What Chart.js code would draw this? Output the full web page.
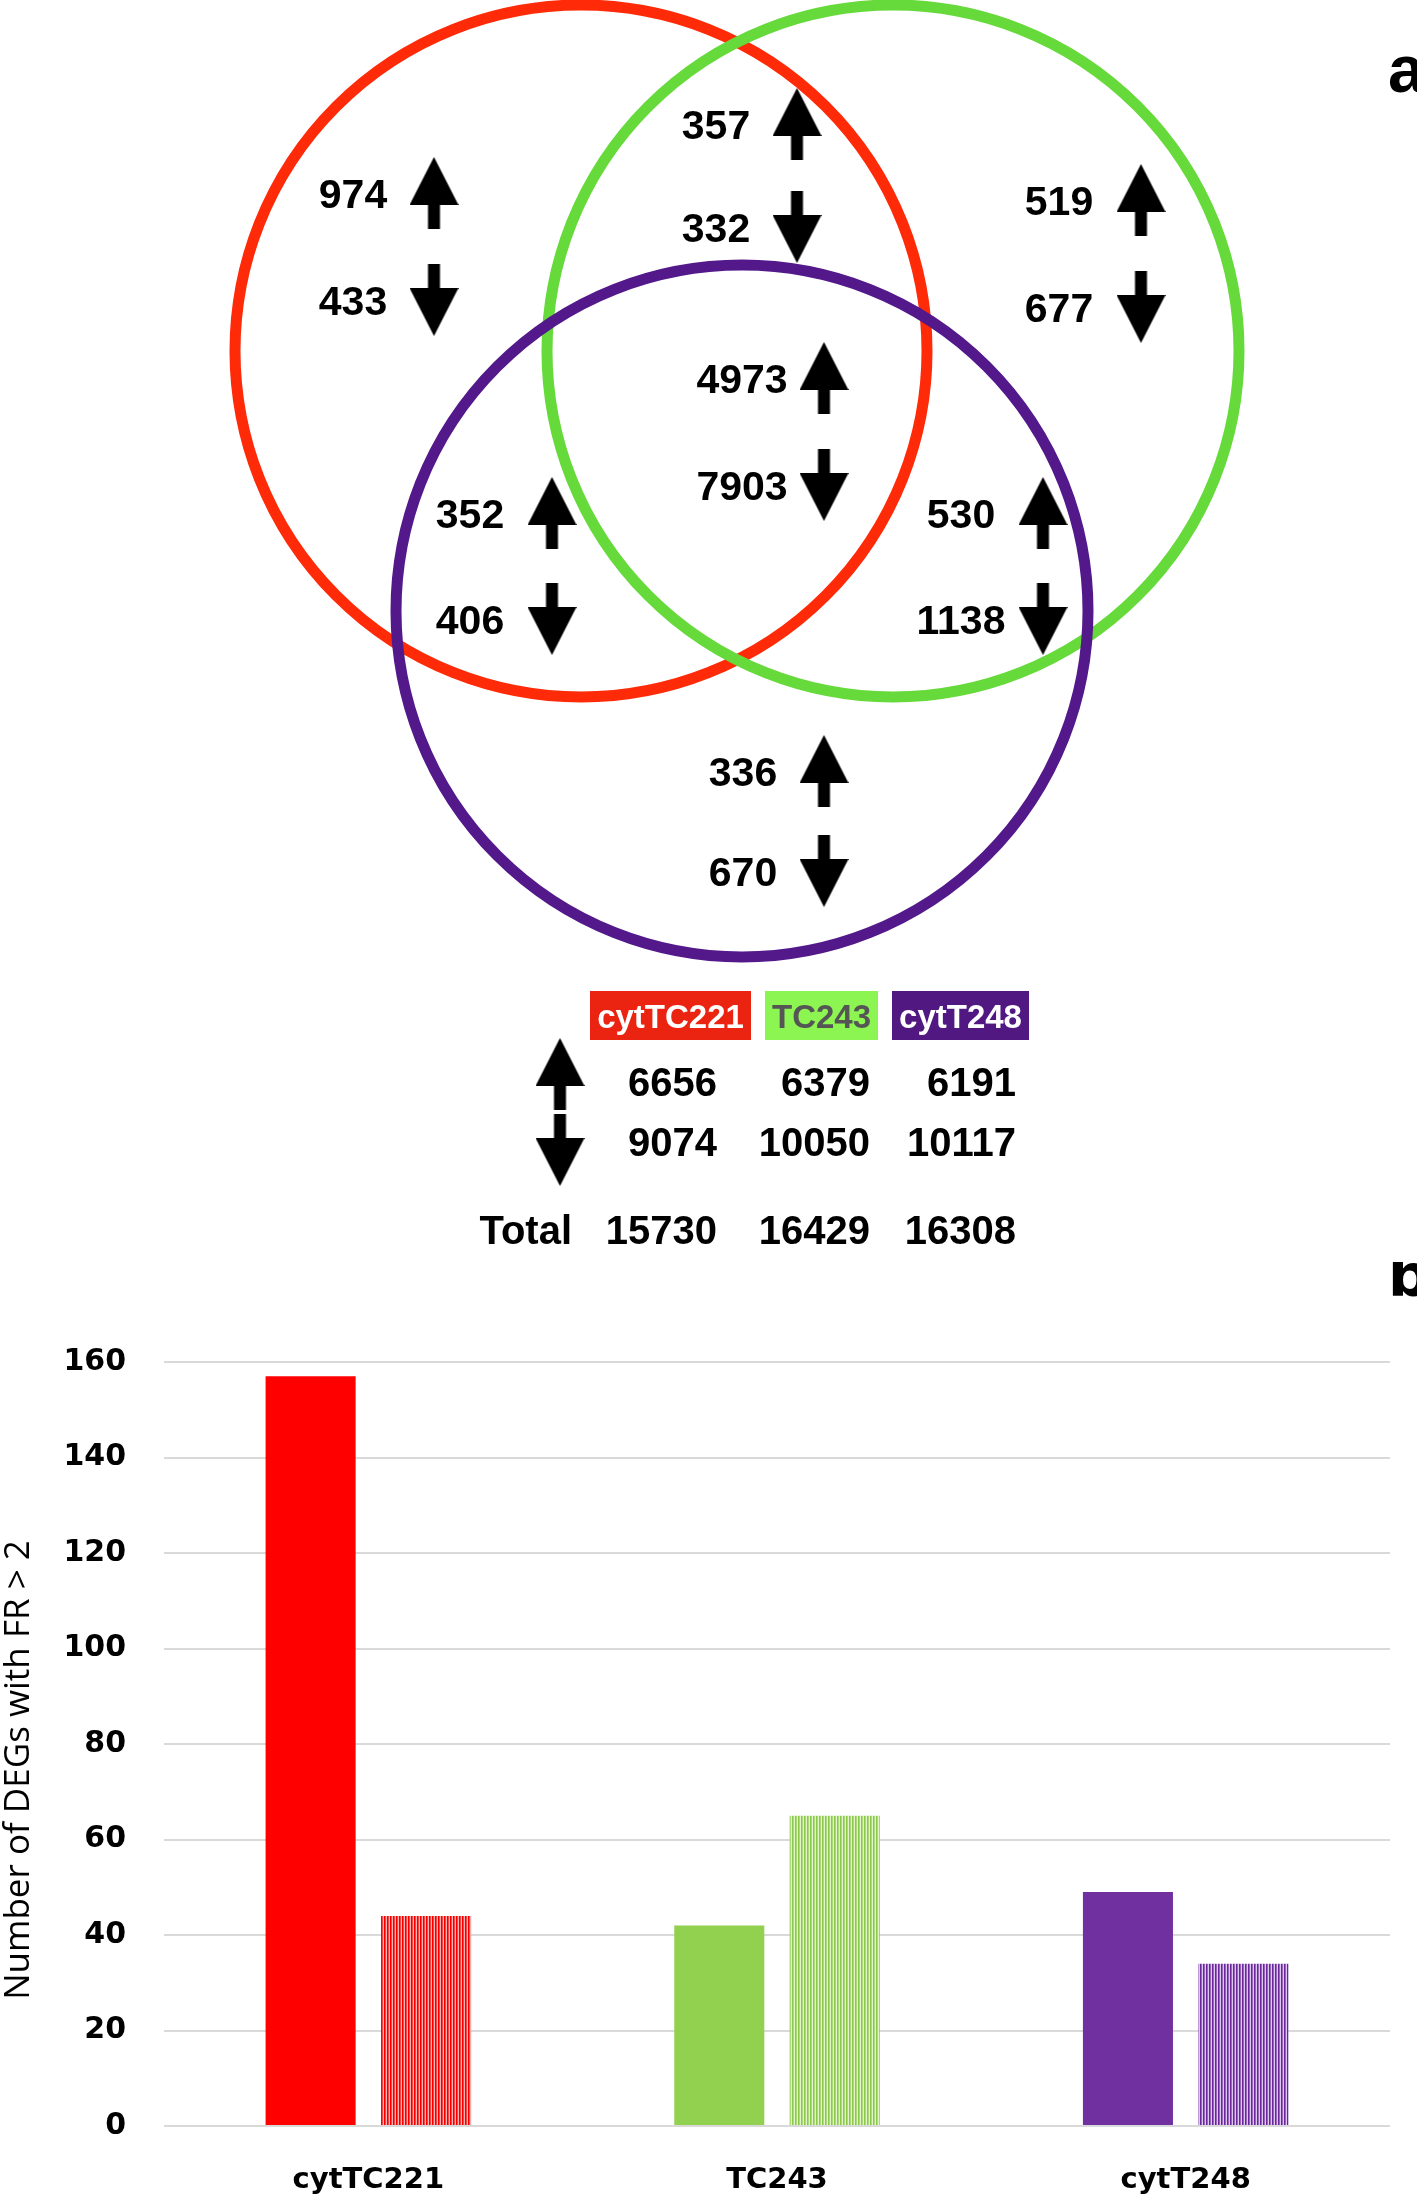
<!DOCTYPE html>
<html>
<head>
<meta charset="utf-8">
<script src="https://cdn.jsdelivr.net/npm/chart.js@4.4.1/dist/chart.umd.min.js"></script>
<style>
  html, body { margin: 0; padding: 0; background: #fff; }
  #page { position: relative; width: 1417px; height: 2197px; overflow: hidden; background: #fff; }
  #venn { position: absolute; left: 0; top: 0; }
  #bars { position: absolute; left: 0; top: 1262px; }
</style>
</head>
<body>
<div id="page">
  <canvas id="venn" width="1417" height="1262"></canvas>
  <canvas id="bars" width="1417" height="935"></canvas>
</div>
<script>
// ---- panel a: venn counts ----
const sets = ['cytTC221', 'TC243', 'cytT248'];
// regions: c221 only, c221+T243, T243 only, all three, c221+T248, T243+T248, T248 only
const regionUp = [974, 357, 519, 4973, 352, 530, 336];
const regionDown = [433, 332, 677, 7903, 406, 1138, 670];
const totalUp = [6656, 6379, 6191];
const totalDown = [9074, 10050, 10117];
const totalAll = [15730, 16429, 16308];

// ---- panel b: DEGs with FR > 2 ----
const categories = ['cytTC221', 'TC243', 'cytT248'];
const upFR2 = [157, 42, 49];
const downFR2 = [44, 65, 34];
const yMax = 160;
const yStep = 20;
const yTitle = 'Number of DEGs with FR > 2';

// layout of the venn (pixel space of the top canvas)
const circlePos = [{ x: 581, y: 351 }, { x: 893, y: 351 }, { x: 742, y: 611 }];
const circleR = 346;
const circleColors = ['#ff2a08', '#66d93b', '#53198b'];
const regionPos = [
  { tx: 353, ax: 434, uy: 193, dy: 300 },
  { tx: 716, ax: 797, uy: 124, dy: 227 },
  { tx: 1059, ax: 1141, uy: 200, dy: 307 },
  { tx: 742, ax: 824, uy: 378, dy: 485 },
  { tx: 470, ax: 552, uy: 513, dy: 619 },
  { tx: 961, ax: 1043, uy: 513, dy: 619 },
  { tx: 743, ax: 824, uy: 771, dy: 871 }
];
const boxes = [
  { x0: 590, x1: 751, fill: '#ea2410', text: '#ffffff' },
  { x0: 765, x1: 878, fill: '#8cf552', text: '#555555' },
  { x0: 892, x1: 1029, fill: '#511882', text: '#ffffff' }
];
const colRight = [717, 870, 1016];

function makeArrow(up) {
  const c = document.createElement('canvas');
  c.width = 49; c.height = 72;
  const g = c.getContext('2d');
  g.fillStyle = '#000';
  g.beginPath();
  if (up) {
    g.moveTo(24.5, 0); g.lineTo(49, 48); g.lineTo(30.5, 48); g.lineTo(30.5, 72);
    g.lineTo(18.5, 72); g.lineTo(18.5, 48); g.lineTo(0, 48);
  } else {
    g.moveTo(24.5, 72); g.lineTo(49, 24); g.lineTo(30.5, 24); g.lineTo(30.5, 0);
    g.lineTo(18.5, 0); g.lineTo(18.5, 24); g.lineTo(0, 24);
  }
  g.closePath();
  g.fill();
  return c;
}
const upArrow = makeArrow(true);
const downArrow = makeArrow(false);

const upPts = regionPos.map(p => ({ x: p.ax, y: p.uy }));
const downPts = regionPos.map(p => ({ x: p.ax, y: p.dy }));
upPts.push({ x: 560, y: 1074 });
downPts.push({ x: 560, y: 1150 });

const vennText = {
  id: 'vennText',
  afterDatasetsDraw(chart) {
    const ctx = chart.ctx;
    const sx = chart.scales.x, sy = chart.scales.y;
    ctx.save();
    ctx.fillStyle = '#000';
    ctx.textBaseline = 'alphabetic';
    ctx.textAlign = 'center';
    ctx.font = 'bold 41px "Liberation Sans", Arial, sans-serif';
    regionPos.forEach((p, i) => {
      const x = sx.getPixelForValue(p.tx);
      ctx.fillText(String(regionUp[i]), x, sy.getPixelForValue(p.uy) + 15);
      ctx.fillText(String(regionDown[i]), x, sy.getPixelForValue(p.dy) + 15);
    });

    // legend boxes
    const by0 = sy.getPixelForValue(991), by1 = sy.getPixelForValue(1040);
    ctx.font = 'bold 33px "Liberation Sans", Arial, sans-serif';
    boxes.forEach((b, i) => {
      const x0 = sx.getPixelForValue(b.x0), x1 = sx.getPixelForValue(b.x1);
      ctx.fillStyle = b.fill;
      ctx.fillRect(x0, by0, x1 - x0, by1 - by0);
      ctx.fillStyle = b.text;
      ctx.fillText(sets[i], (x0 + x1) / 2, (by0 + by1) / 2 + 12);
    });

    // totals table
    ctx.fillStyle = '#000';
    ctx.font = 'bold 40px "Liberation Sans", Arial, sans-serif';
    ctx.textAlign = 'right';
    const rows = [[totalUp, 1082], [totalDown, 1142], [totalAll, 1230]];
    rows.forEach(([vals, y]) => {
      vals.forEach((v, i) => {
        ctx.fillText(String(v), sx.getPixelForValue(colRight[i]), sy.getPixelForValue(y) + 14);
      });
    });
    ctx.fillText('Total', sx.getPixelForValue(572), sy.getPixelForValue(1230) + 14);

    // panel letter
    ctx.textAlign = 'left';
    ctx.font = 'bold 66px "Liberation Sans", Arial, sans-serif';
    ctx.fillText('a', 1388, 92);
    ctx.restore();
  }
};

new Chart(document.getElementById('venn'), {
  type: 'scatter',
  data: {
    datasets: [
      {
        type: 'bubble',
        data: circlePos.map(p => ({ x: p.x, y: p.y, r: circleR })),
        backgroundColor: 'rgba(0,0,0,0)',
        borderColor: circleColors,
        borderWidth: 11,
        hoverBorderWidth: 11,
        clip: false
      },
      { data: upPts, pointStyle: upArrow, pointRadius: 5, clip: false },
      { data: downPts, pointStyle: downArrow, pointRadius: 5, clip: false }
    ]
  },
  options: {
    responsive: false,
    animation: false,
    events: [],
    layout: { padding: 0, autoPadding: false },
    plugins: { legend: { display: false }, tooltip: { enabled: false } },
    scales: {
      x: { type: 'linear', min: 0, max: 1417, display: false },
      y: { type: 'linear', min: 0, max: 1262, reverse: true, display: false }
    }
  },
  plugins: [vennText]
});

// ---- bar chart ----
function hatch(line, light) {
  const c = document.createElement('canvas');
  c.width = 3; c.height = 4;
  const g = c.getContext('2d');
  g.fillStyle = light;
  g.fillRect(0, 0, 3, 4);
  g.fillStyle = line;
  g.fillRect(0, 0, 1, 4);
  g.globalAlpha = 0.6;
  g.fillRect(1, 0, 1, 4);
  return g.createPattern(c, 'repeat');
}
const solidColors = ['#ff0000', '#92d050', '#7030a0'];
const hatchColors = [hatch('#f20000', '#ffb0b0'), hatch('#8cc84a', '#e2f4cc'), hatch('#6a2898', '#dcc6f2')];

const panelB = {
  id: 'panelB',
  afterDraw(chart) {
    const ctx = chart.ctx;
    const area = chart.chartArea;
    ctx.save();
    ctx.fillStyle = '#000';
    ctx.font = 'bold 58px "DejaVu Sans", sans-serif';
    ctx.textAlign = 'left';
    ctx.fillText('b', 1388, 34);
    // y axis title, a little below the plot centre as in the original
    ctx.translate(19, (area.top + area.bottom) / 2 + 26);
    ctx.rotate(-Math.PI / 2);
    ctx.textAlign = 'center';
    ctx.textBaseline = 'middle';
    ctx.font = '35px "Open Sans", sans-serif';
    ctx.fillText(yTitle, 0, 0);
    ctx.restore();
  }
};

new Chart(document.getElementById('bars'), {
  type: 'bar',
  data: {
    labels: categories,
    datasets: [
      { label: 'up', data: upFR2, backgroundColor: solidColors, categoryPercentage: 0.565, barPercentage: 0.78 },
      { label: 'down', data: downFR2, backgroundColor: hatchColors, categoryPercentage: 0.565, barPercentage: 0.78 }
    ]
  },
  options: {
    responsive: false,
    animation: false,
    events: [],
    layout: { padding: { top: 100, right: 27, left: 0, bottom: 0 } },
    plugins: { legend: { display: false }, tooltip: { enabled: false } },
    scales: {
      x: {
        grid: { display: false },
        border: { display: false },
        ticks: { color: '#000', padding: 29, font: { family: 'DejaVu Sans', weight: 'bold', size: 29 } },
        afterFit: s => { s.height = 71; }
      },
      y: {
        min: 0,
        max: yMax,
        ticks: { stepSize: yStep, color: '#000', padding: 38, font: { family: 'DejaVu Sans', weight: 'bold', size: 30 } },
        grid: { color: '#d9d9d9', lineWidth: 2, drawTicks: false },
        border: { display: false },
        afterFit: s => { s.width = 164; }
      }
    }
  },
  plugins: [panelB]
});
</script>
</body>
</html>
